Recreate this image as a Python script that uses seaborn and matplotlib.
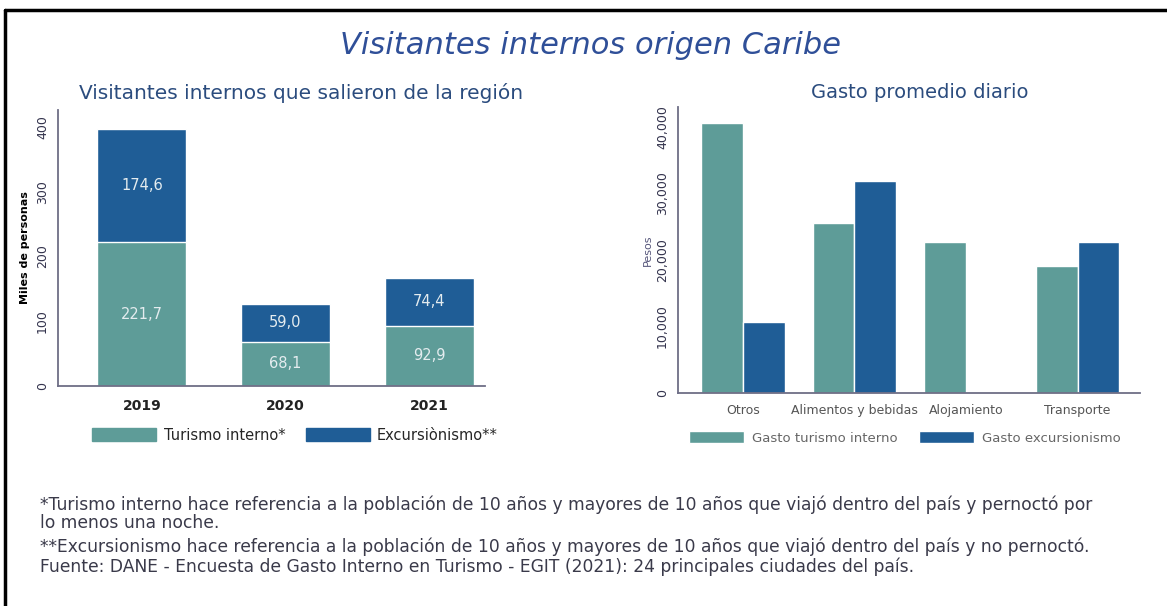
import matplotlib
matplotlib.use("Agg")
import matplotlib.pyplot as plt
import matplotlib.ticker as ticker
from matplotlib.lines import Line2D
import seaborn as sns
import pandas as pd

# Datos - panel izquierdo (miles de personas)
anios = ['2019', '2020', '2021']
turismo_interno = [221.7, 68.1, 92.9]
excursionismo = [174.6, 59.0, 74.4]

# Datos - panel derecho (pesos)
categorias = ['Otros', 'Alimentos y bebidas', 'Alojamiento', 'Transporte']
gasto_turismo = [40500, 25500, 22700, 19000]
gasto_excursion = [10600, 31800, 0, 22700]

COLOR_TEAL = '#5e9c98'
COLOR_AZUL = '#1f5d96'
COLOR_EJE = '#6e6e86'

sns.set_style("white")
plt.rcParams['font.family'] = ['DejaVu Sans']

fig = plt.figure(figsize=(11.67, 6.06), dpi=100)

# Marco exterior
fig.add_artist(Line2D([5 / 1167, 1], [1 - 10 / 606, 1 - 10 / 606],
                      transform=fig.transFigure, color='black', lw=2.5))
fig.add_artist(Line2D([5 / 1167, 5 / 1167], [0, 1 - 10 / 606],
                      transform=fig.transFigure, color='black', lw=2.5))

fig.text(590 / 1167, 1 - 45 / 606, 'Visitantes internos origen Caribe', ha='center', va='center',
         fontsize=22, style='italic', color='#2f4f98')

# 1. Panel izquierdo: barras apiladas
ax1 = fig.add_axes([0.0497, 0.363, 0.366, 0.4554])
df_izq = pd.DataFrame({'anio': anios, 'turismo': turismo_interno, 'excursion': excursionismo})
df_izq['total'] = df_izq['turismo'] + df_izq['excursion']

sns.barplot(data=df_izq, x='anio', y='total', color=COLOR_AZUL, width=0.62,
            saturation=1, ax=ax1)
sns.barplot(data=df_izq, x='anio', y='turismo', color=COLOR_TEAL, width=0.62,
            saturation=1, ax=ax1)

for i, row in df_izq.iterrows():
    ax1.text(i, row['turismo'] / 2, f"{row['turismo']:.1f}".replace('.', ','),
             ha='center', va='center', color='#e4ecef', fontsize=10.5)
    ax1.text(i, row['turismo'] + row['excursion'] / 2, f"{row['excursion']:.1f}".replace('.', ','),
             ha='center', va='center', color='#e4ecef', fontsize=10.5)

ax1.set_xlim(-0.585, 2.39)
ax1.set_ylim(0, 426)
ax1.set_yticks([0, 100, 200, 300, 400])
ax1.set_xlabel('')
ax1.set_ylabel('Miles de personas', fontsize=8, fontweight='bold', color='black', labelpad=4)
ax1.tick_params(axis='y', labelrotation=90, labelsize=9, colors='#33334d', length=3, color=COLOR_EJE)
ax1.tick_params(axis='x', labelsize=10, colors='#222222', length=0, pad=9)
for lbl in ax1.get_xticklabels():
    lbl.set_fontweight('bold')
for lbl in ax1.get_yticklabels():
    lbl.set_va('center')
sns.despine(ax=ax1)
for s in ['left', 'bottom']:
    ax1.spines[s].set_color(COLOR_EJE)
    ax1.spines[s].set_linewidth(1.3)
fig.text(301 / 1167, 1 - 93 / 606, 'Visitantes internos que salieron de la región',
         ha='center', va='center', fontsize=14.5, color='#2b4c7e')

h_izq = [plt.Rectangle((0, 0), 1, 1, color=COLOR_TEAL), plt.Rectangle((0, 0), 1, 1, color=COLOR_AZUL)]
ax1.legend(h_izq, ['Turismo interno*', 'Excursiònismo**'], loc='center',
           bbox_to_anchor=(295 / 1167, 1 - 435 / 606), bbox_transform=fig.transFigure,
           ncol=2, frameon=False, fontsize=10.5, handlelength=4.4, handleheight=1.0,
           columnspacing=1.4, handletextpad=0.5)

# 2. Panel derecho: barras agrupadas
ax2 = fig.add_axes([0.581, 0.3515, 0.396, 0.472])
df_der = pd.DataFrame({
    'categoria': categorias * 2,
    'gasto': gasto_turismo + gasto_excursion,
    'tipo': ['Gasto turismo interno'] * len(categorias) + ['Gasto excursionismo'] * len(categorias),
})
sns.barplot(data=df_der, x='categoria', y='gasto', hue='tipo', width=0.75,
            palette=[COLOR_TEAL, COLOR_AZUL], saturation=1, ax=ax2)

ax2.set_xlim(-0.582, 3.561)
ax2.set_ylim(0, 42960)
ax2.set_yticks([0, 10000, 20000, 30000, 40000])
ax2.yaxis.set_major_formatter(ticker.FuncFormatter(lambda x, p: f'{x:,.0f}'))
ax2.set_xlabel('')
ax2.set_ylabel('Pesos', fontsize=8, color='#55557a', labelpad=2)
ax2.tick_params(axis='y', labelrotation=90, labelsize=9, colors='#33334d', length=3, color=COLOR_EJE)
ax2.tick_params(axis='x', labelsize=9, colors='#555555', length=0, pad=8)
for lbl in ax2.get_yticklabels():
    lbl.set_va('center')
sns.despine(ax=ax2)
for s in ['left', 'bottom']:
    ax2.spines[s].set_color(COLOR_EJE)
    ax2.spines[s].set_linewidth(1.3)
fig.text(920 / 1167, 1 - 93 / 606, 'Gasto promedio diario',
         ha='center', va='center', fontsize=14, color='#2b4c7e')

h_der, l_der = ax2.get_legend_handles_labels()
ax2.legend(h_der, l_der, loc='center',
           bbox_to_anchor=(905 / 1167, 1 - 438 / 606), bbox_transform=fig.transFigure,
           ncol=2, frameon=False, fontsize=9.5, labelcolor='#666666', handlelength=4.2,
           handleheight=1.0, columnspacing=1.6, handletextpad=0.6)

# 3. Notas al pie
notas = [
    '*Turismo interno hace referencia a la población de 10 años y mayores de 10 años que viajó dentro del país y pernoctó por',
    'lo menos una noche.',
    '**Excursionismo hace referencia a la población de 10 años y mayores de 10 años que viajó dentro del país y no pernoctó.',
    'Fuente: DANE - Encuesta de Gasto Interno en Turismo - EGIT (2021): 24 principales ciudades del país.',
]
for texto, y in zip(notas, [505, 523, 547, 567]):
    fig.text(40 / 1167, 1 - y / 606, texto, ha='left', va='center', fontsize=12.3,
             color='#3a3a4a')

plt.savefig('out.png', dpi=100)
